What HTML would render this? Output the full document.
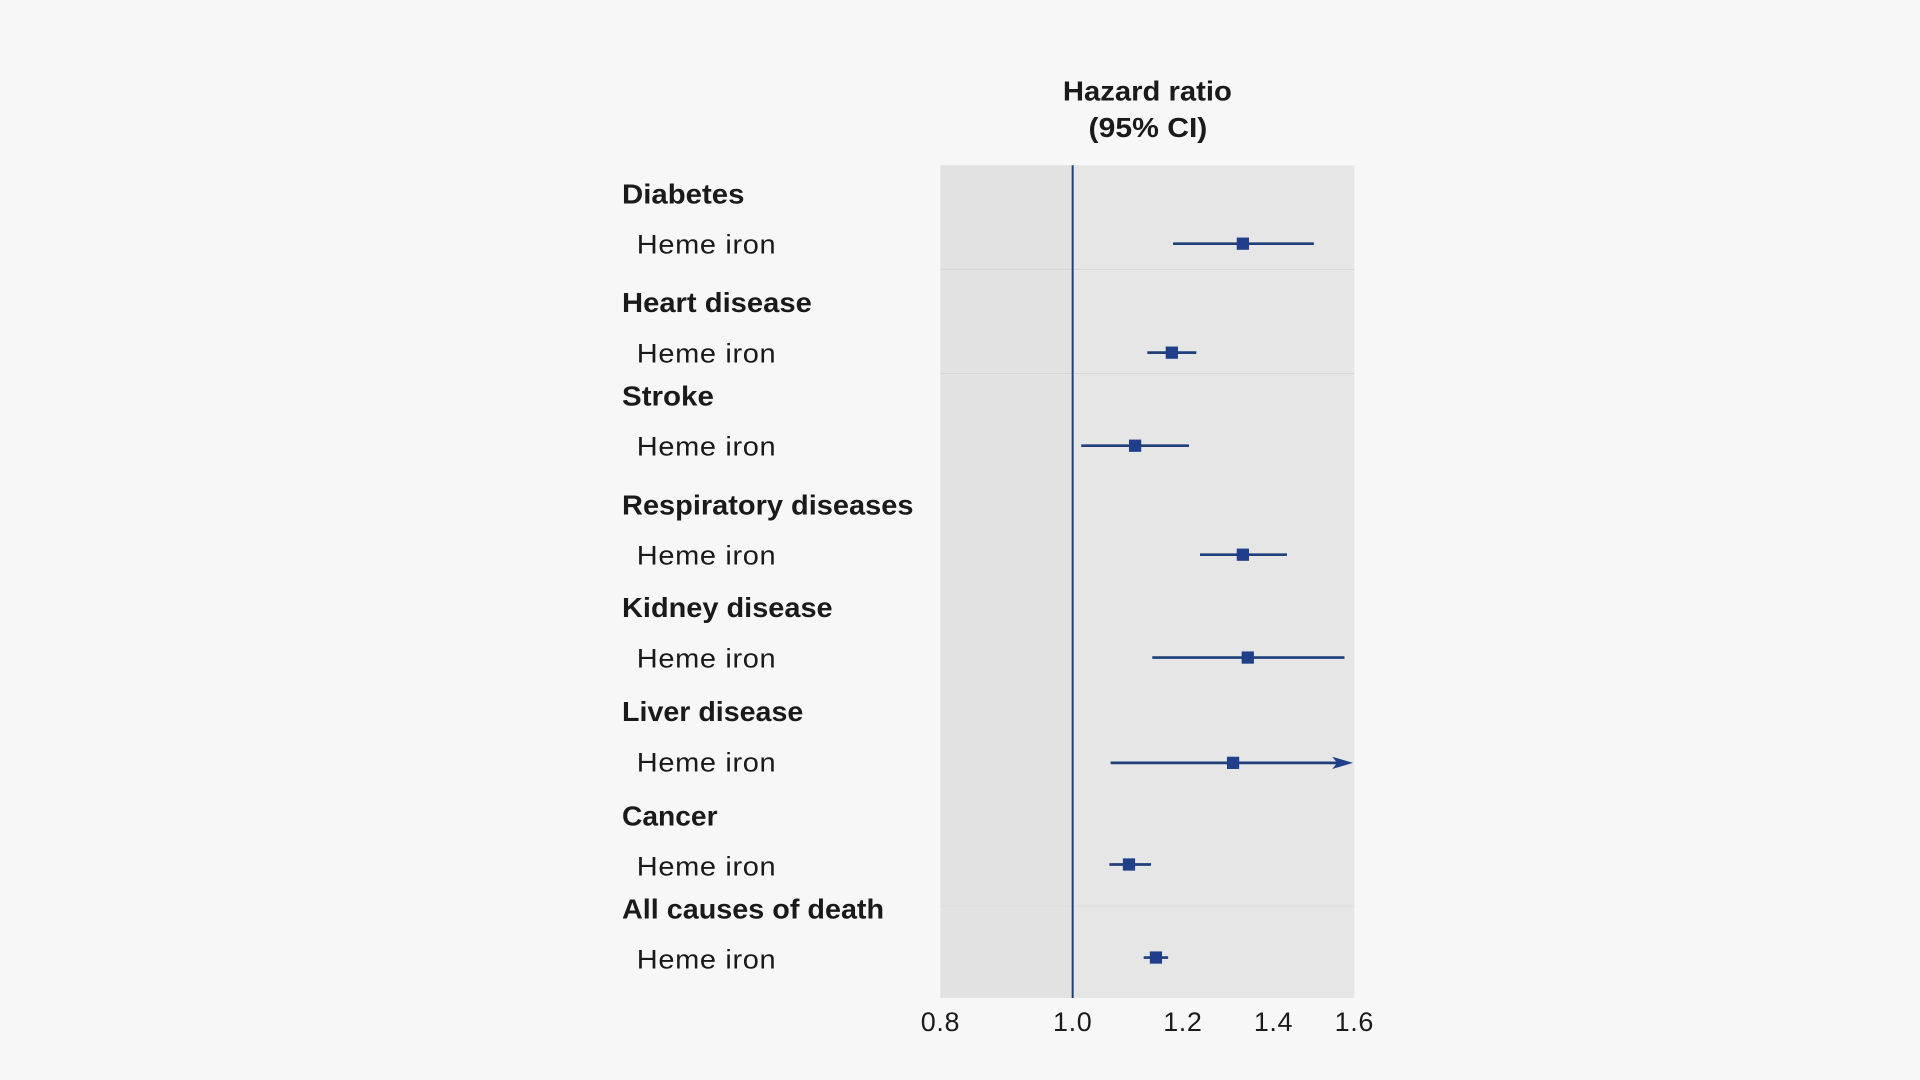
<!DOCTYPE html>
<html><head><meta charset="utf-8"><style>
html,body{margin:0;padding:0;background:#f7f7f7;}
svg{display:block;}
text{font-family:"Liberation Sans","DejaVu Sans",sans-serif;fill:#1a1a1a;}
.b{font-weight:bold;font-size:22.5px;}
.r{font-size:22px;letter-spacing:0.5px;}
</style></head><body>
<svg width="1920" height="1080" viewBox="0 0 1568 882" preserveAspectRatio="none">
<rect width="1568" height="882" fill="#f7f7f7"/>
<rect x="768" y="135" width="338" height="680" fill="#e6e6e6"/>
<rect x="768" y="135" width="108" height="680" fill="#e2e2e2"/>
<line x1="768" y1="220" x2="1106" y2="220" stroke="#d6d6d6" stroke-width="0.8"/>
<line x1="768" y1="305" x2="1106" y2="305" stroke="#d6d6d6" stroke-width="0.8"/>
<line x1="768" y1="740" x2="1106" y2="740" stroke="#dcdcdc" stroke-width="0.8"/>
<line x1="876" y1="135" x2="876" y2="815" stroke="#1f3f7a" stroke-width="1.6"/>
<text x="868" y="82" class="b" textLength="138" lengthAdjust="spacingAndGlyphs">Hazard ratio</text>
<text x="889" y="112" class="b" textLength="97" lengthAdjust="spacingAndGlyphs">(95% CI)</text>
<g class="b">
<text x="508" y="166" textLength="100" lengthAdjust="spacingAndGlyphs">Diabetes</text>
<text x="508" y="255" textLength="155" lengthAdjust="spacingAndGlyphs">Heart disease</text>
<text x="508" y="331" textLength="75" lengthAdjust="spacingAndGlyphs">Stroke</text>
<text x="508" y="420" textLength="238" lengthAdjust="spacingAndGlyphs">Respiratory diseases</text>
<text x="508" y="504" textLength="172" lengthAdjust="spacingAndGlyphs">Kidney disease</text>
<text x="508" y="589" textLength="148" lengthAdjust="spacingAndGlyphs">Liver disease</text>
<text x="508" y="674" textLength="78" lengthAdjust="spacingAndGlyphs">Cancer</text>
<text x="508" y="750" textLength="214" lengthAdjust="spacingAndGlyphs">All causes of death</text>
</g>
<g class="r">
<text x="520" y="207" textLength="114" lengthAdjust="spacingAndGlyphs">Heme iron</text>
<text x="520" y="296" textLength="114" lengthAdjust="spacingAndGlyphs">Heme iron</text>
<text x="520" y="372" textLength="114" lengthAdjust="spacingAndGlyphs">Heme iron</text>
<text x="520" y="461" textLength="114" lengthAdjust="spacingAndGlyphs">Heme iron</text>
<text x="520" y="545" textLength="114" lengthAdjust="spacingAndGlyphs">Heme iron</text>
<text x="520" y="630" textLength="114" lengthAdjust="spacingAndGlyphs">Heme iron</text>
<text x="520" y="715" textLength="114" lengthAdjust="spacingAndGlyphs">Heme iron</text>
<text x="520" y="791" textLength="114" lengthAdjust="spacingAndGlyphs">Heme iron</text>
</g>
<g stroke="#1f3f7a" stroke-width="2.2" fill="#1f3f8a">
<line x1="958" y1="199" x2="1073" y2="199"/><rect x="1010" y="194" width="10" height="10" stroke="none"/>
<line x1="937" y1="288" x2="977" y2="288"/><rect x="952" y="283" width="10" height="10" stroke="none"/>
<line x1="883" y1="364" x2="971" y2="364"/><rect x="922" y="359" width="10" height="10" stroke="none"/>
<line x1="980" y1="453" x2="1051" y2="453"/><rect x="1010" y="448" width="10" height="10" stroke="none"/>
<line x1="941" y1="537" x2="1098" y2="537"/><rect x="1014" y="532" width="10" height="10" stroke="none"/>
<line x1="907" y1="623" x2="1096" y2="623"/><rect x="1002" y="618" width="10" height="10" stroke="none"/>
<polygon points="1088,618 1105,623 1088,628 1092,623" stroke="none"/>
<line x1="906" y1="706" x2="940" y2="706"/><rect x="917" y="701" width="10" height="10" stroke="none"/>
<line x1="934" y1="782" x2="954" y2="782"/><rect x="939" y="777" width="10" height="10" stroke="none"/>
</g>
<g class="r" text-anchor="middle">
<text x="768" y="842">0.8</text>
<text x="876" y="842">1.0</text>
<text x="966" y="842">1.2</text>
<text x="1040" y="842">1.4</text>
<text x="1106" y="842">1.6</text>
</g>
</svg>
</body></html>
